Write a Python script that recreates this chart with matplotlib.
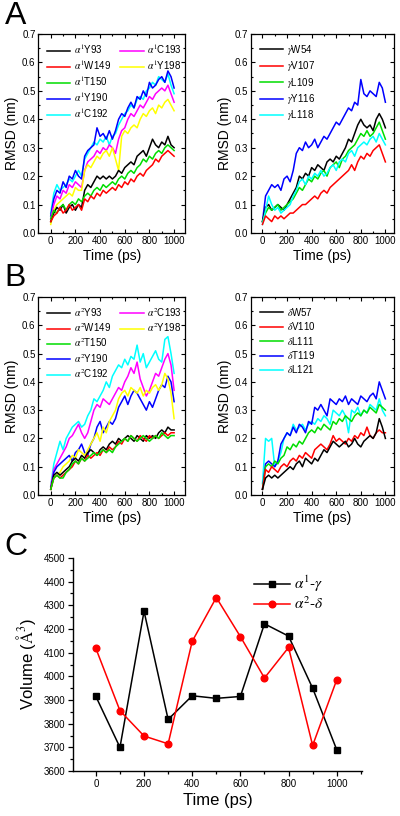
import matplotlib
matplotlib.use("Agg")
import matplotlib.pyplot as plt
from matplotlib.lines import Line2D
from matplotlib.ticker import MultipleLocator

plt.rcParams['font.family'] = ['Liberation Sans', 'DejaVu Sans']
plt.rcParams['mathtext.fontset'] = 'stix'

# ---------------- data ----------------
time = list(range(0, 1001, 25))

a1_labels = [r'$\alpha^1$Y93', r'$\alpha^1$W149', r'$\alpha^1$T150', r'$\alpha^1$Y190',
             r'$\alpha^1$C192', r'$\alpha^1$C193', r'$\alpha^1$Y198']
a1_Y93 = [0.04,0.07,0.09,0.08,0.1,0.07,0.09,0.1,0.08,0.1,0.09,0.15,0.17,0.16,0.18,0.2,0.19,0.2,0.19,0.2,0.19,0.2,0.22,0.21,0.23,0.24,0.25,0.24,0.27,0.28,0.29,0.27,0.3,0.33,0.31,0.3,0.32,0.31,0.34,0.31,0.3]
a1_W149 = [0.04,0.06,0.07,0.09,0.07,0.08,0.1,0.08,0.09,0.1,0.08,0.12,0.11,0.13,0.12,0.14,0.13,0.15,0.14,0.15,0.16,0.15,0.17,0.16,0.18,0.17,0.19,0.18,0.2,0.21,0.2,0.22,0.23,0.24,0.26,0.25,0.27,0.28,0.29,0.28,0.27]
a1_T150 = [0.05,0.08,0.07,0.09,0.1,0.08,0.1,0.11,0.1,0.12,0.11,0.13,0.14,0.13,0.15,0.16,0.15,0.17,0.16,0.17,0.18,0.17,0.19,0.2,0.19,0.21,0.22,0.21,0.23,0.24,0.26,0.25,0.27,0.26,0.28,0.29,0.28,0.3,0.31,0.3,0.29]
a1_Y190 = [0.06,0.12,0.15,0.14,0.18,0.16,0.2,0.19,0.22,0.2,0.19,0.27,0.29,0.3,0.31,0.37,0.34,0.35,0.33,0.36,0.33,0.36,0.4,0.42,0.41,0.44,0.46,0.44,0.48,0.47,0.5,0.48,0.53,0.51,0.52,0.54,0.55,0.53,0.57,0.55,0.51]
a1_C192 = [0.07,0.14,0.17,0.15,0.16,0.17,0.19,0.18,0.2,0.22,0.2,0.26,0.28,0.3,0.32,0.31,0.33,0.32,0.34,0.31,0.34,0.35,0.38,0.4,0.42,0.43,0.45,0.44,0.47,0.48,0.47,0.5,0.51,0.53,0.52,0.55,0.54,0.53,0.56,0.52,0.49]
a1_C193 = [0.05,0.1,0.13,0.12,0.15,0.14,0.17,0.16,0.18,0.17,0.16,0.22,0.25,0.26,0.27,0.29,0.28,0.3,0.29,0.31,0.3,0.28,0.33,0.36,0.37,0.4,0.42,0.41,0.43,0.45,0.44,0.46,0.48,0.47,0.49,0.5,0.51,0.5,0.52,0.49,0.46]
a1_Y198 = [0.03,0.08,0.1,0.11,0.12,0.13,0.14,0.13,0.16,0.15,0.15,0.22,0.24,0.23,0.25,0.27,0.26,0.28,0.29,0.27,0.3,0.26,0.22,0.34,0.36,0.35,0.37,0.38,0.37,0.4,0.42,0.41,0.43,0.44,0.42,0.45,0.44,0.46,0.47,0.45,0.43]

g_labels = [r'$\gamma$W54', r'$\gamma$V107', r'$\gamma$L109', r'$\gamma$Y116', r'$\gamma$L118']
g_W54 = [0.04,0.09,0.1,0.08,0.09,0.1,0.09,0.08,0.1,0.12,0.14,0.16,0.2,0.19,0.21,0.2,0.23,0.22,0.24,0.23,0.22,0.25,0.26,0.25,0.27,0.26,0.28,0.3,0.33,0.32,0.35,0.38,0.4,0.38,0.37,0.38,0.36,0.4,0.42,0.4,0.37]
g_V107 = [0.03,0.06,0.05,0.04,0.06,0.05,0.06,0.05,0.06,0.07,0.07,0.08,0.09,0.1,0.1,0.11,0.12,0.13,0.12,0.14,0.15,0.14,0.16,0.17,0.18,0.19,0.2,0.21,0.22,0.24,0.22,0.25,0.27,0.26,0.28,0.27,0.29,0.3,0.31,0.28,0.25]
g_L109 = [0.04,0.07,0.09,0.08,0.09,0.1,0.08,0.09,0.1,0.11,0.12,0.14,0.16,0.15,0.17,0.19,0.18,0.2,0.19,0.21,0.22,0.2,0.23,0.24,0.25,0.23,0.26,0.27,0.29,0.3,0.31,0.33,0.35,0.34,0.36,0.34,0.35,0.37,0.39,0.36,0.33]
g_Y116 = [0.04,0.13,0.15,0.17,0.16,0.17,0.15,0.19,0.2,0.18,0.22,0.28,0.3,0.29,0.32,0.3,0.31,0.33,0.3,0.32,0.34,0.33,0.35,0.37,0.39,0.38,0.4,0.42,0.44,0.43,0.46,0.45,0.54,0.49,0.48,0.5,0.49,0.48,0.53,0.51,0.46]
g_L118 = [0.03,0.08,0.13,0.1,0.08,0.09,0.07,0.08,0.09,0.1,0.13,0.15,0.18,0.19,0.17,0.2,0.19,0.21,0.2,0.22,0.2,0.21,0.23,0.24,0.22,0.25,0.26,0.25,0.28,0.29,0.27,0.3,0.31,0.32,0.31,0.33,0.34,0.32,0.35,0.33,0.31]

a2_labels = [r'$\alpha^2$Y93', r'$\alpha^2$W149', r'$\alpha^2$T150', r'$\alpha^2$Y190',
             r'$\alpha^2$C192', r'$\alpha^2$C193', r'$\alpha^2$Y198']
a2_Y93 = [0.02,0.07,0.08,0.07,0.08,0.09,0.1,0.12,0.13,0.12,0.14,0.13,0.15,0.16,0.15,0.14,0.16,0.17,0.16,0.18,0.19,0.18,0.2,0.19,0.2,0.21,0.2,0.19,0.21,0.2,0.19,0.21,0.2,0.21,0.2,0.22,0.23,0.22,0.24,0.23,0.23]
a2_W149 = [0.02,0.06,0.07,0.06,0.07,0.08,0.09,0.1,0.12,0.11,0.13,0.12,0.14,0.13,0.14,0.15,0.14,0.16,0.15,0.17,0.16,0.17,0.19,0.18,0.2,0.19,0.21,0.2,0.19,0.21,0.2,0.19,0.21,0.2,0.21,0.2,0.21,0.22,0.21,0.22,0.22]
a2_T150 = [0.02,0.06,0.07,0.06,0.06,0.08,0.09,0.11,0.12,0.11,0.13,0.12,0.13,0.14,0.15,0.14,0.15,0.16,0.15,0.16,0.15,0.17,0.18,0.19,0.2,0.19,0.21,0.2,0.19,0.2,0.21,0.2,0.19,0.2,0.21,0.2,0.22,0.21,0.2,0.21,0.21]
a2_Y190 = [0.02,0.08,0.1,0.11,0.12,0.13,0.14,0.12,0.15,0.16,0.18,0.15,0.14,0.18,0.2,0.24,0.26,0.22,0.24,0.26,0.25,0.27,0.31,0.33,0.35,0.32,0.35,0.37,0.36,0.34,0.32,0.3,0.33,0.31,0.34,0.37,0.39,0.38,0.42,0.4,0.33]
a2_C192 = [0.03,0.11,0.15,0.19,0.16,0.2,0.22,0.24,0.25,0.26,0.24,0.25,0.28,0.3,0.34,0.33,0.35,0.37,0.4,0.38,0.42,0.44,0.46,0.45,0.48,0.46,0.49,0.48,0.53,0.47,0.5,0.45,0.47,0.49,0.51,0.48,0.47,0.55,0.56,0.5,0.43]
a2_C193 = [0.03,0.09,0.11,0.13,0.15,0.17,0.2,0.21,0.23,0.25,0.22,0.2,0.22,0.26,0.3,0.32,0.31,0.34,0.33,0.32,0.34,0.36,0.38,0.37,0.4,0.42,0.45,0.43,0.47,0.41,0.38,0.35,0.37,0.4,0.43,0.42,0.45,0.48,0.5,0.46,0.37]
a2_Y198 = [0.02,0.06,0.07,0.08,0.1,0.11,0.12,0.14,0.13,0.16,0.15,0.14,0.16,0.18,0.2,0.22,0.19,0.24,0.22,0.26,0.28,0.3,0.34,0.36,0.37,0.35,0.38,0.37,0.36,0.38,0.35,0.37,0.36,0.38,0.39,0.37,0.39,0.43,0.41,0.36,0.27]

d_labels = [r'$\delta$W57', r'$\delta$V110', r'$\delta$L111', r'$\delta$T119', r'$\delta$L121']
d_W57 = [0.02,0.06,0.07,0.06,0.07,0.06,0.07,0.08,0.09,0.1,0.09,0.11,0.12,0.1,0.13,0.12,0.11,0.13,0.12,0.14,0.16,0.15,0.17,0.19,0.18,0.17,0.18,0.19,0.17,0.18,0.2,0.18,0.17,0.19,0.2,0.21,0.2,0.22,0.27,0.24,0.2]
d_V110 = [0.02,0.09,0.08,0.1,0.09,0.08,0.1,0.11,0.1,0.12,0.13,0.12,0.14,0.13,0.15,0.14,0.13,0.16,0.17,0.18,0.17,0.16,0.18,0.21,0.19,0.2,0.19,0.18,0.2,0.19,0.21,0.2,0.22,0.21,0.24,0.21,0.2,0.22,0.23,0.22,0.22]
d_L111 = [0.02,0.1,0.11,0.1,0.12,0.11,0.13,0.14,0.17,0.16,0.18,0.17,0.19,0.18,0.2,0.22,0.23,0.22,0.24,0.23,0.25,0.24,0.23,0.26,0.25,0.27,0.26,0.28,0.27,0.26,0.28,0.29,0.28,0.3,0.29,0.31,0.3,0.29,0.32,0.31,0.3]
d_T119 = [0.02,0.11,0.12,0.11,0.1,0.12,0.18,0.2,0.22,0.21,0.24,0.22,0.25,0.24,0.22,0.26,0.25,0.31,0.3,0.32,0.3,0.28,0.34,0.33,0.32,0.34,0.33,0.35,0.32,0.34,0.33,0.32,0.35,0.34,0.33,0.35,0.36,0.34,0.4,0.37,0.34]
d_L121 = [0.04,0.2,0.19,0.2,0.1,0.12,0.15,0.2,0.22,0.21,0.25,0.23,0.24,0.25,0.23,0.25,0.26,0.25,0.27,0.26,0.28,0.27,0.25,0.3,0.29,0.28,0.3,0.28,0.22,0.3,0.29,0.31,0.28,0.3,0.29,0.32,0.31,0.3,0.34,0.3,0.28]

vol_time = [0, 100, 200, 300, 400, 500, 600, 700, 800, 900, 1000]
vol_a1g = [3915, 3700, 4275, 3818, 3918, 3907, 3915, 4222, 4170, 3950, 3690]
vol_a2d = [4118, 3855, 3748, 3715, 4148, 4333, 4168, 3993, 4122, 3708, 3985]
vol_labels = [r'$\alpha^1$-$\gamma$', r'$\alpha^2$-$\delta$']

colors7 = ['black', 'red', '#00dd00', 'blue', 'cyan', 'magenta', 'yellow']
colors5 = ['black', 'red', '#00dd00', 'blue', 'cyan']

# ---------------- figure ----------------
fig = plt.figure(figsize=(4.0, 8.16), dpi=100)
LW = 1.1

def rmsd_axes(rect, xlim):
    ax = fig.add_axes(rect)
    ax.set_xlim(*xlim)
    ax.set_ylim(0, 0.7)
    ax.xaxis.set_major_locator(MultipleLocator(200))
    ax.xaxis.set_minor_locator(MultipleLocator(100))
    ax.yaxis.set_major_locator(MultipleLocator(0.1))
    ax.yaxis.set_minor_locator(MultipleLocator(0.05))
    ax.yaxis.set_major_formatter(matplotlib.ticker.FormatStrFormatter('%.1f'))
    ax.tick_params(which='both', direction='in', top=True, right=True, labelsize=7, pad=2)
    ax.tick_params(which='major', length=3, width=0.8)
    ax.tick_params(which='minor', length=1.5, width=0.8)
    for s in ax.spines.values():
        s.set_linewidth(0.9)
    ax.set_xlabel('Time (ps)', fontsize=10, labelpad=2)
    ax.set_ylabel('RMSD (nm)', fontsize=10, labelpad=2)
    return ax

LEG = dict(frameon=False, fontsize=7, handlelength=2.4, handletextpad=0.4,
           labelspacing=0.25, borderaxespad=0.5)

def seven_legend(ax, handles):
    blank = Line2D([], [], color='none')
    hs = handles[:5] + handles[5:] + [blank, blank, blank]
    labs = [h.get_label() for h in handles] + ['', '', '']
    ax.legend(hs, labs, ncol=2, loc='upper left', bbox_to_anchor=(0.0, 1.0),
              columnspacing=0.9, **LEG)

# A left
axA1 = rmsd_axes([0.096, 0.7145, 0.367, 0.2438], (-100, 1090))
a1_series = [a1_Y93, a1_W149, a1_T150, a1_Y190, a1_C192, a1_C193, a1_Y198]
hs = [None] * 7
for i in [4, 3, 5, 6, 0, 2, 1]:
    hs[i], = axA1.plot(time, a1_series[i], color=colors7[i], lw=LW, label=a1_labels[i])
seven_legend(axA1, hs)

# A right
axA2 = rmsd_axes([0.627, 0.7145, 0.358, 0.2438], (-95, 1070))
g_series = [g_W54, g_V107, g_L109, g_Y116, g_L118]
hg = [None] * 5
for i in [3, 0, 2, 4, 1]:
    hg[i], = axA2.plot(time, g_series[i], color=colors5[i], lw=LW, label=g_labels[i])
axA2.legend(hg, g_labels, loc='upper left', **LEG)

# B left
axB1 = rmsd_axes([0.096, 0.3934, 0.367, 0.2426], (-100, 1090))
a2_series = [a2_Y93, a2_W149, a2_T150, a2_Y190, a2_C192, a2_C193, a2_Y198]
hs2 = [None] * 7
for i in [4, 5, 3, 6, 0, 1, 2]:
    hs2[i], = axB1.plot(time, a2_series[i], color=colors7[i], lw=LW, label=a2_labels[i])
seven_legend(axB1, hs2)

# B right
axB2 = rmsd_axes([0.627, 0.3934, 0.358, 0.2426], (-95, 1070))
d_series = [d_W57, d_V110, d_L111, d_T119, d_L121]
hs3 = [None] * 5
for i in [4, 3, 2, 1, 0]:
    hs3[i], = axB2.plot(time, d_series[i], color=colors5[i], lw=LW, label=d_labels[i])
axB2.legend(hs3, d_labels, loc='upper left', **LEG)

# C
axC = fig.add_axes([0.1825, 0.0551, 0.7225, 0.2611])
axC.plot(vol_time, vol_a1g, color='black', lw=1.1, marker='s', ms=4.2, label=vol_labels[0])
axC.plot(vol_time, vol_a2d, color='red', lw=1.1, marker='o', ms=4.8, label=vol_labels[1])
axC.set_xlim(-95, 1105)
axC.set_ylim(3600, 4500)
axC.xaxis.set_major_locator(MultipleLocator(200))
axC.xaxis.set_minor_locator(MultipleLocator(100))
axC.yaxis.set_major_locator(MultipleLocator(100))
axC.yaxis.set_minor_locator(MultipleLocator(50))
axC.spines['top'].set_visible(False)
axC.spines['right'].set_visible(False)
for s in ['left', 'bottom']:
    axC.spines[s].set_linewidth(1.0)
axC.tick_params(which='both', direction='out', labelsize=7, pad=2)
axC.tick_params(which='major', length=3.5, width=0.9)
axC.tick_params(which='minor', length=2, width=0.9)
axC.set_xlabel('Time (ps)', fontsize=12, labelpad=3)
axC.set_ylabel(r'Volume ($\mathrm{\AA}^3$)', fontsize=12, labelpad=4)
axC.legend(loc='upper right', bbox_to_anchor=(0.915, 0.99), frameon=False, fontsize=11,
           handlelength=2.3, handletextpad=0.3, labelspacing=0.1)

# panel letters
fig.text(0.012, 0.999, 'A', fontsize=23, va='top', ha='left')
fig.text(0.012, 0.678, 'B', fontsize=23, va='top', ha='left')
fig.text(0.012, 0.348, 'C', fontsize=23, va='top', ha='left')

fig.savefig('out.png', dpi=100)
